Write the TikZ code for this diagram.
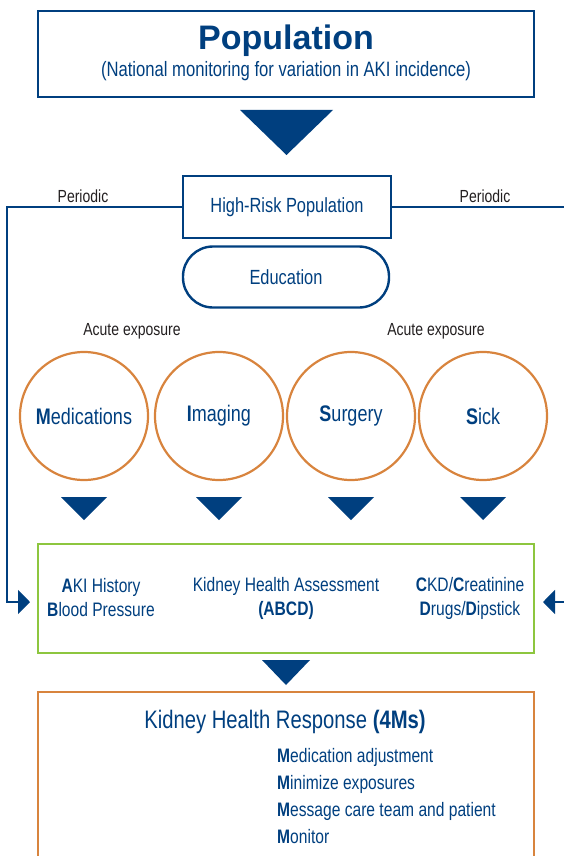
\documentclass[tikz,border=0pt]{standalone}
\usepackage{fontspec}
\setmainfont{Liberation Sans}
\newfontfamily\narrowfont[FakeStretch=0.8]{Liberation Sans}
\usetikzlibrary{positioning, calc, arrows.meta}
\definecolor{akiblue}{HTML}{003F7F}
\definecolor{akiorange}{HTML}{D8843E}
\definecolor{akigreen}{HTML}{8DC63F}
\definecolor{akigray}{HTML}{231F20}

\begin{document}
\begin{tikzpicture}[
		x=1pt, y=-1pt,
		>=Latex,
		bluebox/.style={
				draw=akiblue,
				line width=2.4pt,
				rectangle
			},
		exposure/.style={
				draw=akiorange,
				line width=2.2pt,
				circle,
				minimum size=128pt,
				inner sep=0pt,
				text=akiblue,
				font=\narrowfont\fontsize{22.5}{26}\selectfont
			},
		label/.style={
				text=akigray,
				font=\narrowfont\fontsize{17.5}{20}\selectfont
			},
		bluetext/.style={
				text=akiblue,
				font=\narrowfont\fontsize{19.5}{24}\selectfont,
				align=center
			},
		listline/.style={
				anchor=west,
				inner sep=0pt,
				text=akiblue,
				font=\narrowfont\fontsize{19.5}{24}\selectfont
			},
		feedback/.style={
				draw=akiblue,
				line width=1.1pt,
				-{Triangle[length=12pt,width=24pt]}
			}
	]
	\useasboundingbox (0,0) rectangle (563,856);

	% Nodes
	\node[bluebox, minimum width=496pt, minimum height=86pt] (population) at (286,54) {};
	\node[text=akiblue, font=\fontsize{34}{38}\selectfont\bfseries] (poptitle) at (286,41) {Population};
	\node[text=akiblue, font=\narrowfont\fontsize{20.8}{24}\selectfont] (popsub) at (286,71) {(National monitoring for variation in AKI incidence)};

	\node[bluebox, minimum width=208pt, minimum height=62pt, text=akiblue,
		font=\narrowfont\fontsize{20.5}{24}\selectfont] (highrisk) at (287,207) {High-Risk Population};
	\node[draw=akiblue, line width=2.4pt, rounded corners=30pt, minimum width=206pt, minimum height=61pt,
		text=akiblue, font=\narrowfont\fontsize{20.5}{24}\selectfont] (education) at (286,277) {Education};

	\node[label] (periodicleft) at (83,196) {Periodic};
	\node[label] (periodicright) at (485,196) {Periodic};
	\node[label] (acuteleft) at (132,331) {Acute exposure};
	\node[label] (acuteright) at (436,331) {Acute exposure};

	\node[exposure] (medications) at (84,416) {\textbf{M}edications};
	\node[exposure] (imaging) at (219,416) {\textbf{I}maging};
	\node[exposure] (surgery) at (351,416) {\textbf{S}urgery};
	\node[exposure] (sick) at (483,416) {\textbf{S}ick};

	\node[draw=akigreen, line width=2.4pt, minimum width=496pt, minimum height=109pt] (assessment) at (286,598.5) {};
	\node[bluetext] (akihistory) at (101,598) {\textbf{A}KI History\\\textbf{B}lood Pressure};
	\node[bluetext] (abcd) at (286,598) {Kidney Health Assessment\\\textbf{(ABCD)}};
	\node[bluetext] (ckd) at (470,598) {\textbf{C}KD/\textbf{C}reatinine\\\textbf{D}rugs/\textbf{D}ipstick};

	\node[draw=akiorange, line width=2.4pt, minimum width=496pt, minimum height=200pt] (response) at (286,792) {};
	\node[text=akiblue, font=\narrowfont\fontsize{25.3}{28}\selectfont] (responsetitle) at (285,722) {Kidney Health Response \textbf{(4Ms)}};
	\node[listline] (madjust) at (277,757) {\textbf{M}edication adjustment};
	\node[listline] (mminimize) at (277,784) {\textbf{M}inimize exposures};
	\node[listline] (mmessage) at (277,811) {\textbf{M}essage care team and patient};
	\node[listline] (mmonitor) at (277,837) {\textbf{M}onitor};

	\coordinate (leftcorner) at (7,207);
	\coordinate (leftend) at (30,602);
	\coordinate (rightcorner) at (567,207);
	\coordinate (rightend) at (543,602);

	% Triangles
	\fill[akiblue] (240,110) -- (333,110) -- (286.5,155) -- cycle;
	\foreach \cx in {84,219,351,483}
		\fill[akiblue] (\cx-23,497) -- (\cx+23,497) -- (\cx,520) -- cycle;
	\fill[akiblue] (262,660) -- (310,660) -- (286,685) -- cycle;

	% Paths
	\draw[feedback] (highrisk.west) -- (leftcorner) |- (leftend);
	\draw[feedback] (highrisk.east) -- (rightcorner) |- (rightend);
\end{tikzpicture}
\end{document}
